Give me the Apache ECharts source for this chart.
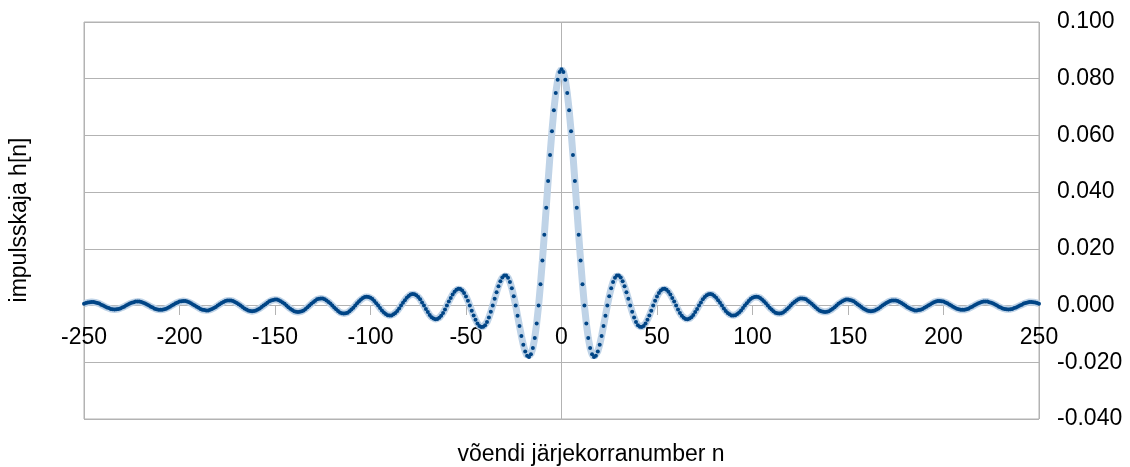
<!DOCTYPE html>
<html>
<head>
<meta charset="utf-8">
<script src="https://cdn.jsdelivr.net/npm/echarts@6/dist/echarts.min.js"></script>
<style>
  html, body { margin: 0; padding: 0; background: #fff; }
  #chart { width: 1130px; height: 467px; }
</style>
</head>
<body>
<div id="chart"></div>
<script>
// esimene n väärtus, iga järgmine on +1
const nStart = -250;

// h[n], n = -250 ... -1
const hLeft = [
  0.0006, 0.0009, 0.0011, 0.0012, 0.0013, 0.0013, 0.0011, 0.0009, 0.0007, 0.0003,
  0, -0.0003, -0.0007, -0.0009, -0.0012, -0.0013, -0.0014, -0.0013, -0.0012, -0.0010, -0.0007, -0.0004,
  0, 0.0004, 0.0007, 0.0010, 0.0012, 0.0014, 0.0014, 0.0014, 0.0013, 0.0010, 0.0007, 0.0004,
  0, -0.0004, -0.0007, -0.0011, -0.0013, -0.0015, -0.0015, -0.0015, -0.0013, -0.0011, -0.0008, -0.0004,
  0, 0.0004, 0.0008, 0.0011, 0.0014, 0.0015, 0.0016, 0.0016, 0.0014, 0.0012, 0.0008, 0.0004,
  0, -0.0004, -0.0008, -0.0012, -0.0015, -0.0016, -0.0017, -0.0017, -0.0015, -0.0012, -0.0009, -0.0005,
  0, 0.0005, 0.0009, 0.0013, 0.0016, 0.0018, 0.0018, 0.0018, 0.0016, 0.0013, 0.0009, 0.0005,
  0, -0.0005, -0.0010, -0.0014, -0.0017, -0.0019, -0.0020, -0.0019, -0.0017, -0.0014, -0.0010, -0.0005,
  0, 0.0005, 0.0010, 0.0015, 0.0018, 0.0020, 0.0021, 0.0021, 0.0019, 0.0015, 0.0011, 0.0006,
  0, -0.0006, -0.0011, -0.0016, -0.0020, -0.0022, -0.0023, -0.0022, -0.0020, -0.0017, -0.0012, -0.0006,
  0, 0.0006, 0.0012, 0.0017, 0.0022, 0.0024, 0.0025, 0.0025, 0.0022, 0.0018, 0.0013, 0.0007,
  0, -0.0007, -0.0013, -0.0019, -0.0024, -0.0027, -0.0028, -0.0027, -0.0025, -0.0020, -0.0014, -0.0008,
  0, 0.0008, 0.0015, 0.0021, 0.0027, 0.0030, 0.0031, 0.0030, 0.0028, 0.0023, 0.0016, 0.0008,
  0, -0.0009, -0.0017, -0.0024, -0.0030, -0.0034, -0.0035, -0.0035, -0.0031, -0.0026, -0.0019, -0.0010,
  0, 0.0010, 0.0019, 0.0028, 0.0034, 0.0039, 0.0041, 0.0040, 0.0036, 0.0030, 0.0022, 0.0011,
  0, -0.0012, -0.0023, -0.0033, -0.0041, -0.0046, -0.0048, -0.0047, -0.0043, -0.0036, -0.0026, -0.0014,
  0, 0.0014, 0.0027, 0.0039, 0.0049, 0.0056, 0.0059, 0.0058, 0.0053, 0.0044, 0.0032, 0.0017,
  0, -0.0018, -0.0035, -0.0050, -0.0063, -0.0072, -0.0076, -0.0075, -0.0069, -0.0058, -0.0042, -0.0022,
  0, 0.0024, 0.0047, 0.0068, 0.0086, 0.0099, 0.0106, 0.0106, 0.0098, 0.0083, 0.0061, 0.0033,
  0, -0.0036, -0.0072, -0.0107, -0.0138, -0.0162, -0.0177, -0.0181, -0.0172, -0.0150, -0.0114, -0.0063,
  0, 0.0075, 0.0159, 0.0250, 0.0345, 0.0439, 0.0531, 0.0615, 0.0689, 0.0750, 0.0796, 0.0824
];

// h[n], n = 0 ... 250
const hRight = [
  0.0833,
  0.0824, 0.0796, 0.0750, 0.0689, 0.0615, 0.0531, 0.0439, 0.0345, 0.0250, 0.0159, 0.0075, 0,
  -0.0063, -0.0114, -0.0150, -0.0172, -0.0181, -0.0177, -0.0162, -0.0138, -0.0107, -0.0072, -0.0036, 0,
  0.0033, 0.0061, 0.0083, 0.0098, 0.0106, 0.0106, 0.0099, 0.0086, 0.0068, 0.0047, 0.0024, 0,
  -0.0022, -0.0042, -0.0058, -0.0069, -0.0075, -0.0076, -0.0072, -0.0063, -0.0050, -0.0035, -0.0018, 0,
  0.0017, 0.0032, 0.0044, 0.0053, 0.0058, 0.0059, 0.0056, 0.0049, 0.0039, 0.0027, 0.0014, 0,
  -0.0014, -0.0026, -0.0036, -0.0043, -0.0047, -0.0048, -0.0046, -0.0041, -0.0033, -0.0023, -0.0012, 0,
  0.0011, 0.0022, 0.0030, 0.0036, 0.0040, 0.0041, 0.0039, 0.0034, 0.0028, 0.0019, 0.0010, 0,
  -0.0010, -0.0019, -0.0026, -0.0031, -0.0035, -0.0035, -0.0034, -0.0030, -0.0024, -0.0017, -0.0009, 0,
  0.0008, 0.0016, 0.0023, 0.0028, 0.0030, 0.0031, 0.0030, 0.0027, 0.0021, 0.0015, 0.0008, 0,
  -0.0008, -0.0014, -0.0020, -0.0025, -0.0027, -0.0028, -0.0027, -0.0024, -0.0019, -0.0013, -0.0007, 0,
  0.0007, 0.0013, 0.0018, 0.0022, 0.0025, 0.0025, 0.0024, 0.0022, 0.0017, 0.0012, 0.0006, 0,
  -0.0006, -0.0012, -0.0017, -0.0020, -0.0022, -0.0023, -0.0022, -0.0020, -0.0016, -0.0011, -0.0006, 0,
  0.0006, 0.0011, 0.0015, 0.0019, 0.0021, 0.0021, 0.0020, 0.0018, 0.0015, 0.0010, 0.0005, 0,
  -0.0005, -0.0010, -0.0014, -0.0017, -0.0019, -0.0020, -0.0019, -0.0017, -0.0014, -0.0010, -0.0005, 0,
  0.0005, 0.0009, 0.0013, 0.0016, 0.0018, 0.0018, 0.0018, 0.0016, 0.0013, 0.0009, 0.0005, 0,
  -0.0005, -0.0009, -0.0012, -0.0015, -0.0017, -0.0017, -0.0016, -0.0015, -0.0012, -0.0008, -0.0004, 0,
  0.0004, 0.0008, 0.0012, 0.0014, 0.0016, 0.0016, 0.0015, 0.0014, 0.0011, 0.0008, 0.0004, 0,
  -0.0004, -0.0008, -0.0011, -0.0013, -0.0015, -0.0015, -0.0015, -0.0013, -0.0011, -0.0007, -0.0004, 0,
  0.0004, 0.0007, 0.0010, 0.0013, 0.0014, 0.0014, 0.0014, 0.0012, 0.0010, 0.0007, 0.0004, 0,
  -0.0004, -0.0007, -0.0010, -0.0012, -0.0013, -0.0014, -0.0013, -0.0012, -0.0009, -0.0007, -0.0003, 0,
  0.0003, 0.0007, 0.0009, 0.0011, 0.0013, 0.0013, 0.0012, 0.0011, 0.0009, 0.0006
];

const xTicks = { min: -250, max: 250, step: 50 };
const yTicks = { min: -0.04, max: 0.1, step: 0.02 };

const xTitle = 'võendi järjekorranumber n';
const yTitle = 'impulsskaja h[n]';

const fontName = 'Liberation Sans';
const gridColor = '#b3b3b3';

const hAll = hLeft.concat(hRight);
let points = [];
for (let i = 0; i < hAll.length; i++) {
  points.push([nStart + i, hAll[i]]);
}

const chart = echarts.init(document.getElementById('chart'), null, { renderer: 'canvas' });

// x-telg asub y = 0 kõrgusel: graafiku alumisest servast (419) 114 px ülespoole
const option = {
  animation: false,
  backgroundColor: '#fff',
  grid: {
    left: 84,
    right: 91,
    top: 22,
    bottom: 48,
    show: true,
    borderColor: gridColor,
    borderWidth: 1,
  },
  xAxis: [
    {
      type: 'value',
      position: 'bottom',
      offset: -114,
      min: xTicks.min,
      max: xTicks.max,
      interval: xTicks.step,
      axisLine: { show: true, onZero: false, lineStyle: { color: gridColor, width: 1 } },
      axisTick: { show: true, length: 10, lineStyle: { color: gridColor } },
      axisLabel: { fontSize: 23, fontFamily: fontName, color: '#000', margin: 21 },
      splitLine: { show: false },
    },
    {
      // ainult vertikaalsed jooned -250, 0, 250 juures
      type: 'value',
      min: xTicks.min,
      max: xTicks.max,
      interval: 250,
      axisLine: { show: false },
      axisTick: { show: false },
      axisLabel: { show: false },
      splitLine: { show: true, lineStyle: { color: gridColor, width: 1 } },
    },
  ],
  yAxis: {
    type: 'value',
    position: 'right',
    min: yTicks.min,
    max: yTicks.max,
    interval: yTicks.step,
    axisLine: { show: false },
    axisTick: { show: true, length: 7, lineStyle: { color: gridColor } },
    axisLabel: {
      fontSize: 23,
      fontFamily: fontName,
      color: '#000',
      margin: 18,
      formatter: function (v) {
        return v.toFixed(3);
      },
    },
    splitLine: { show: true, lineStyle: { color: gridColor, width: 1 } },
  },
  graphic: [
    {
      type: 'text',
      x: 591,
      y: 455,
      style: {
        text: xTitle,
        fontSize: 23,
        fontFamily: fontName,
        fill: '#000',
        textAlign: 'center',
        textVerticalAlign: 'middle',
      },
    },
    {
      type: 'text',
      x: 20,
      y: 220,
      rotation: Math.PI / 2,
      style: {
        text: yTitle,
        fontSize: 23,
        fontFamily: fontName,
        fill: '#000',
        textAlign: 'center',
        textVerticalAlign: 'middle',
      },
    },
  ],
  series: [
    {
      type: 'line',
      xAxisIndex: 0,
      data: points,
      symbol: 'circle',
      symbolSize: 4,
      showAllSymbol: true,
      itemStyle: { color: '#004586' },
      lineStyle: { color: '#bfd3e7', width: 7 },
    },
  ],
};

chart.setOption(option);
</script>
</body>
</html>
